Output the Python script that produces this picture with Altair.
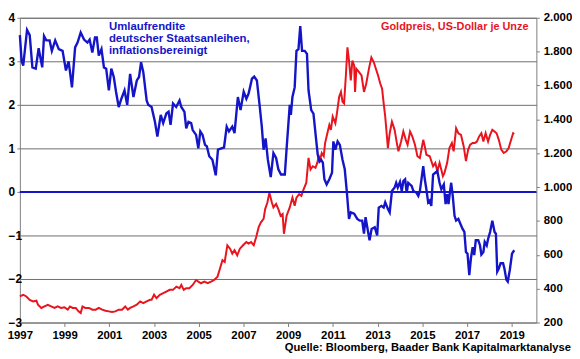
import altair as alt
import pandas as pd

# Real yield of German government bonds (left axis, %)
blue_years = [1997.0, 1997.08, 1997.15, 1997.32, 1997.44, 1997.56, 1997.71, 1997.84, 1998.0, 1998.08,
              1998.18, 1998.33, 1998.43, 1998.58, 1998.74, 1998.91, 1999.06, 1999.18, 1999.33, 1999.47,
              1999.58, 1999.72, 1999.87, 2000.02, 2000.12, 2000.24, 2000.36, 2000.44, 2000.53, 2000.65,
              2000.76, 2000.86, 2000.98, 2001.09, 2001.2, 2001.3, 2001.42, 2001.54, 2001.68, 2001.8,
              2001.93, 2002.08, 2002.23, 2002.33, 2002.42, 2002.52, 2002.67, 2002.74, 2002.89, 2003.04,
              2003.15, 2003.3, 2003.41, 2003.55, 2003.65, 2003.74, 2003.85, 2003.99, 2004.14, 2004.22,
              2004.36, 2004.44, 2004.54, 2004.66, 2004.73, 2004.88, 2004.98, 2005.07, 2005.17, 2005.28,
              2005.36, 2005.47, 2005.61, 2005.76, 2005.86, 2006.01, 2006.13, 2006.25, 2006.35, 2006.5,
              2006.6, 2006.75, 2006.87, 2007.01, 2007.13, 2007.23, 2007.38, 2007.48, 2007.6, 2007.72,
              2007.82, 2007.9, 2007.99, 2008.09, 2008.22, 2008.34, 2008.46, 2008.56, 2008.68, 2008.85,
              2008.93, 2009.0, 2009.07, 2009.12, 2009.19, 2009.29, 2009.37, 2009.46, 2009.54, 2009.62,
              2009.74, 2009.84, 2009.91, 2010.03, 2010.13, 2010.25, 2010.32, 2010.4, 2010.47, 2010.55,
              2010.62, 2010.72, 2010.84, 2010.96, 2011.02, 2011.11, 2011.21, 2011.31, 2011.43, 2011.53,
              2011.62, 2011.72, 2011.8, 2011.95, 2012.09, 2012.2, 2012.31, 2012.39, 2012.46, 2012.55,
              2012.64, 2012.73, 2012.87, 2012.98, 2013.05, 2013.17, 2013.27, 2013.34, 2013.46, 2013.54,
              2013.64, 2013.76, 2013.83, 2013.9, 2014.0, 2014.08, 2014.15, 2014.23, 2014.3, 2014.37,
              2014.52, 2014.6, 2014.74, 2014.82, 2014.89, 2015.04, 2015.11, 2015.18, 2015.26, 2015.33,
              2015.4, 2015.48, 2015.58, 2015.67, 2015.77, 2015.85, 2015.96, 2016.04, 2016.11, 2016.17,
              2016.23, 2016.29, 2016.36, 2016.44, 2016.51, 2016.61, 2016.7, 2016.8, 2016.88, 2016.95,
              2017.02, 2017.1, 2017.17, 2017.25, 2017.32, 2017.39, 2017.5, 2017.58, 2017.64, 2017.73,
              2017.79, 2017.88, 2017.94, 2018.03, 2018.13, 2018.23, 2018.29, 2018.35, 2018.42, 2018.5,
              2018.61, 2018.67, 2018.76, 2018.82, 2018.91, 2019.01, 2019.11]
blue_values = [3.6, 3.0, 2.9, 3.72, 3.6, 2.86, 2.83, 3.3, 2.86, 3.58,
               3.48, 3.48, 3.24, 3.48, 3.28, 3.24, 2.79, 3.0, 2.4, 3.32,
               3.43, 3.66, 3.5, 3.43, 3.5, 3.2, 3.55, 3.55, 3.13, 3.28,
               2.86, 2.83, 2.33, 2.83, 2.64, 2.3, 1.95, 2.14, 2.33, 2.0,
               2.71, 2.18, 2.56, 2.64, 2.98, 2.75, 2.1, 2.0, 1.95, 1.61,
               1.27, 1.77, 1.58, 1.8, 1.84, 1.54, 2.03, 1.95, 2.1, 1.95,
               1.84, 1.46, 1.61, 1.58, 1.42, 1.31, 1.0, 1.39, 1.31, 1.08,
               1.05, 0.82, 0.74, 0.38, 0.97, 1.0, 1.02, 1.5, 1.39, 1.5,
               1.35, 2.18, 1.88, 2.3, 2.14, 2.26, 2.6, 2.65, 2.56, 2.0,
               1.5, 0.97, 1.23, 0.74, 0.34, 0.89, 0.78, 0.52, 0.4, 0.4,
               1.0, 1.5, 2.0, 1.77, 2.18, 2.4, 3.24, 3.28, 3.81, 3.24,
               3.24, 3.17, 2.33, 1.88, 1.8, 1.2, 0.86, 0.7, 0.74, 0.67,
               0.29, 0.17, 0.29, 0.44, 1.16, 0.97, 1.16, 1.08, 0.74, 0.52,
               0.02, -0.62, -0.47, -0.5, -0.62, -0.66, -0.66, -0.96, -0.58, -0.85,
               -1.11, -0.85, -0.81, -1.0, -0.36, -0.32, -0.36, -0.24, -0.39, -0.47,
               0.02, 0.1, 0.21, 0.1, 0.23, 0.02, 0.25, 0.29, -0.02, 0.21,
               0.14, 0.02, -0.02, -0.09, 0.02, 0.59, 0.29, 0.06, -0.24, -0.2,
               -0.32, 0.4, 0.44, 0.48, 0.21, 0.06, 0.17, -0.28, -0.05, -0.28,
               -0.02, 0.21, -0.09, -0.55, -0.66, -0.62, -0.73, -0.85, -0.92, -1.38,
               -1.42, -1.91, -1.53, -1.27, -1.45, -1.11, -1.11, -1.23, -1.44, -1.38,
               -1.15, -1.23, -1.08, -0.92, -0.66, -0.92, -0.96, -1.83, -1.76, -1.64,
               -1.64, -1.76, -2.02, -2.06, -1.8, -1.42, -1.34]

# Gold price, USD per ounce (right axis)
gold_years = [1997.0, 1997.15, 1997.29, 1997.44, 1997.59, 1997.74, 1997.81, 1997.96, 1998.1, 1998.25,
              1998.4, 1998.55, 1998.69, 1998.84, 1998.99, 1999.14, 1999.24, 1999.36, 1999.5, 1999.62,
              1999.72, 1999.8, 1999.92, 2000.09, 2000.24, 2000.39, 2000.53, 2000.68, 2000.83, 2000.98,
              2001.12, 2001.27, 2001.42, 2001.57, 2001.71, 2001.83, 2001.93, 2002.08, 2002.23, 2002.38,
              2002.52, 2002.67, 2002.82, 2002.89, 2003.0, 2003.11, 2003.26, 2003.41, 2003.55, 2003.7,
              2003.85, 2004.0, 2004.14, 2004.22, 2004.33, 2004.44, 2004.58, 2004.73, 2004.88, 2004.98,
              2005.1, 2005.25, 2005.4, 2005.55, 2005.69, 2005.84, 2005.95, 2006.06, 2006.16, 2006.28,
              2006.4, 2006.5, 2006.6, 2006.72, 2006.84, 2006.98, 2007.13, 2007.23, 2007.34, 2007.46,
              2007.57, 2007.68, 2007.78, 2007.9, 2007.97, 2008.07, 2008.16, 2008.27, 2008.34, 2008.46,
              2008.56, 2008.66, 2008.75, 2008.81, 2008.93, 2009.07, 2009.19, 2009.29, 2009.37, 2009.49,
              2009.59, 2009.69, 2009.81, 2009.91, 2010.0, 2010.1, 2010.22, 2010.3, 2010.37, 2010.43,
              2010.5, 2010.59, 2010.65, 2010.77, 2010.84, 2010.91, 2010.99, 2011.11, 2011.18, 2011.28,
              2011.36, 2011.43, 2011.5, 2011.58, 2011.65, 2011.72, 2011.8, 2011.87, 2011.95, 2011.99,
              2012.05, 2012.17, 2012.28, 2012.39, 2012.49, 2012.61, 2012.72, 2012.83, 2012.9, 2013.02,
              2013.12, 2013.2, 2013.27, 2013.34, 2013.46, 2013.54, 2013.64, 2013.76, 2013.86, 2013.93,
              2014.05, 2014.15, 2014.26, 2014.34, 2014.45, 2014.55, 2014.67, 2014.78, 2014.89, 2015.04,
              2015.11, 2015.18, 2015.33, 2015.48, 2015.58, 2015.67, 2015.77, 2015.92, 2015.99, 2016.11,
              2016.21, 2016.32, 2016.4, 2016.51, 2016.61, 2016.73, 2016.85, 2016.95, 2017.05, 2017.14,
              2017.25, 2017.35, 2017.44, 2017.54, 2017.64, 2017.73, 2017.83, 2017.94, 2018.03, 2018.13,
              2018.23, 2018.32, 2018.42, 2018.53, 2018.64, 2018.76, 2018.86, 2018.97, 2019.06, 2019.11]
gold_values = [354, 364, 354, 334, 325, 329, 305, 286, 295, 305,
               295, 286, 295, 286, 290, 276, 295, 286, 286, 266,
               256, 295, 286, 286, 276, 276, 286, 276, 270, 266,
               262, 266, 276, 276, 295, 276, 286, 295, 305, 325,
               315, 325, 334, 334, 364, 344, 364, 373, 383, 393,
               393, 412, 403, 422, 393, 403, 403, 422, 451, 442,
               432, 442, 432, 442, 451, 471, 519, 568, 558, 656,
               636, 607, 627, 597, 636, 656, 675, 666, 675, 656,
               705, 763, 792, 812, 870, 909, 967, 909, 880, 900,
               870, 831, 841, 724, 831, 880, 938, 890, 938, 958,
               948, 987, 1026, 1172, 1104, 1123, 1114, 1143, 1182, 1162,
               1201, 1182, 1260, 1328, 1367, 1338, 1416, 1377, 1435, 1533,
               1562, 1504, 1494, 1659, 1825, 1747, 1630, 1747, 1718, 1562,
               1698, 1679, 1659, 1562, 1610, 1698, 1766, 1737, 1708, 1659,
               1610, 1581, 1494, 1416, 1230, 1318, 1386, 1338, 1260, 1211,
               1269, 1328, 1279, 1250, 1328, 1299, 1250, 1182, 1172, 1279,
               1240, 1191, 1182, 1123, 1143, 1094, 1143, 1065, 1084, 1143,
               1230, 1260, 1211, 1347, 1318, 1308, 1240, 1153, 1221, 1250,
               1260, 1260, 1269, 1299, 1318, 1269, 1318, 1269, 1308, 1338,
               1328, 1318, 1279, 1221, 1201, 1211, 1230, 1279, 1318, 1314]

year_ticks = [1997, 1999, 2001, 2003, 2005, 2007, 2009, 2011, 2013, 2015, 2017, 2019]
left_ticks = [-3, -2, -1, 0, 1, 2, 3, 4]
right_ticks = [200, 400, 600, 800, 1000, 1200, 1400, 1600, 1800, 2000]

blue_label = ["Umlaufrendite", "deutscher Staatsanleihen,", "inflationsbereinigt"]
gold_label = "Goldpreis, US-Dollar je Unze"
source_label = "Quelle: Bloomberg, Baader Bank Kapitalmarktanalyse"

FONT = "Liberation Sans"
BLUE = "#1414c8"
RED = "#e8141e"

blue_df = pd.DataFrame({"year": blue_years, "value": blue_values})
gold_df = pd.DataFrame({"year": gold_years, "value": gold_values})
zero_df = pd.DataFrame({"value": [0]})

x_scale = alt.Scale(domain=[1997, 2020.1], nice=False, zero=False)
left_scale = alt.Scale(domain=[-3, 4], nice=False, zero=False)
right_scale = alt.Scale(domain=[200, 2000], nice=False, zero=False)

x_axis = alt.Axis(values=year_ticks, format="d", title=None, grid=False, domain=False,
                  tickSize=4, tickColor="#808080", labelFont=FONT, labelFontWeight="bold",
                  labelFontSize=11.5, labelColor="black", labelPadding=3,
                  labelFlush=False, labelOverlap=False, labelBound=False)

gold = alt.Chart(gold_df).mark_line(color=RED, strokeWidth=2).encode(
    x=alt.X("year:Q", scale=x_scale, axis=x_axis),
    y=alt.Y("value:Q", scale=right_scale,
            axis=alt.Axis(orient="right", values=right_ticks, title=None, grid=False, domain=False,
                          tickSize=3, tickColor="#808080", labelFont=FONT, labelFontWeight="bold",
                          labelFontSize=11.5, labelColor="black", labelPadding=4,
                          labelExpr="replace(format(datum.value, ','), ',', '.')")),
)

blue = alt.Chart(blue_df).mark_line(color=BLUE, strokeWidth=2.4).encode(
    x=alt.X("year:Q", scale=x_scale, axis=x_axis),
    y=alt.Y("value:Q", scale=left_scale,
            axis=alt.Axis(orient="left", values=left_ticks, title=None, grid=True, gridColor="#6e6e6e",
                          gridWidth=1, domain=False, tickSize=3, tickColor="#808080",
                          labelFont=FONT, labelFontWeight="bold", labelFontSize=12,
                          labelColor="black", labelAlign="left", labelPadding=9)),
)

zero = alt.Chart(zero_df).mark_rule(color=BLUE, strokeWidth=2).encode(
    y=alt.Y("value:Q", scale=left_scale, axis=None),
)

blue_text = alt.Chart(pd.DataFrame({"t": [0]})).mark_text(
    text=blue_label, font=FONT, fontWeight="bold", fontSize=11.5, color=BLUE,
    align="left", baseline="alphabetic", lineHeight=12.4,
).encode(x=alt.value(90), y=alt.value(12))

gold_text = alt.Chart(pd.DataFrame({"t": [0]})).mark_text(
    text=gold_label, font=FONT, fontWeight="bold", fontSize=11, color=RED,
    align="right", baseline="alphabetic",
).encode(x=alt.value(514), y=alt.value(12))

source_text = alt.Chart(pd.DataFrame({"t": [0]})).mark_text(
    text=source_label, font=FONT, fontWeight="bold", fontSize=11.3, color="black",
    align="right", baseline="alphabetic",
).encode(x=alt.value(557), y=alt.value(337))

chart = alt.layer(gold, blue, zero, blue_text, gold_text, source_text).resolve_scale(
    y="independent"
).properties(
    width=522, height=308,
    autosize=alt.AutoSizeParams(type="none"),
    padding={"left": 12, "top": 8, "right": 36, "bottom": 35},
).configure_view(stroke="#808080", strokeWidth=1)

chart.save("out.html", embed_options={"renderer": "svg", "actions": False})
